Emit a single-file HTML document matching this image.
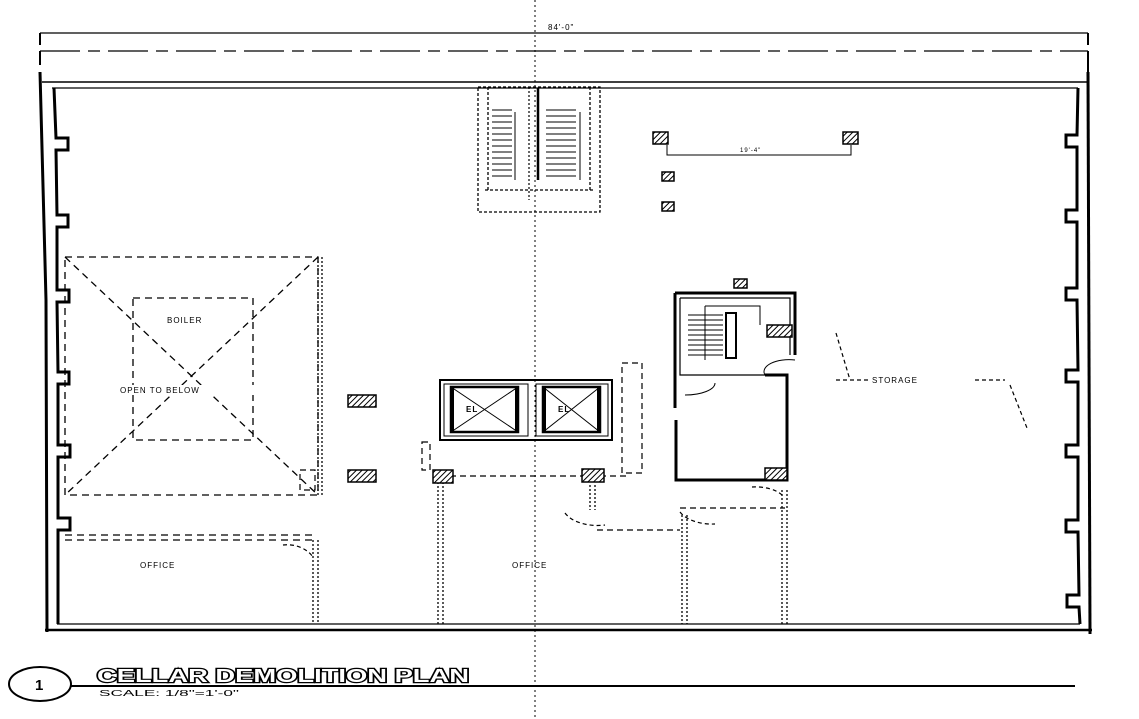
<!DOCTYPE html>
<html><head><style>
html,body{margin:0;padding:0;background:#fff;width:1139px;height:719px;overflow:hidden}
svg{display:block}
text{font-family:"Liberation Sans",sans-serif;fill:#000}
</style></head><body>
<svg width="1139" height="719" viewBox="0 0 1139 719" xmlns="http://www.w3.org/2000/svg">
<defs>
<pattern id="h" width="4" height="4" patternUnits="userSpaceOnUse" patternTransform="rotate(45)">
<rect width="4" height="4" fill="#fff"/><line x1="0" y1="0" x2="0" y2="4" stroke="#000" stroke-width="2"/></pattern>
</defs>
<g stroke="#000" fill="none">
<line x1="535" y1="0" x2="535" y2="719" stroke-width="1" stroke-dasharray="2,3"/>
<line x1="40" y1="33" x2="1088" y2="33" stroke-width="1.2"/>
<line x1="40" y1="33" x2="40" y2="45" stroke-width="2"/>
<line x1="1088" y1="33" x2="1088" y2="45" stroke-width="2"/>
<line x1="40" y1="51" x2="1088" y2="51" stroke-width="1.3" stroke-dasharray="40,8,12,8"/>
<line x1="40" y1="51" x2="40" y2="65" stroke-width="2"/>
<line x1="1088" y1="51" x2="1088" y2="72" stroke-width="2"/>
<line x1="42" y1="82" x2="1088" y2="82" stroke-width="1.5"/>
<line x1="52" y1="88" x2="1078" y2="88" stroke-width="1.3"/>
<polyline points="40,72 46,300 47,632" stroke-width="3"/>
<line x1="1088" y1="72" x2="1090" y2="634" stroke-width="3"/>
<line x1="45" y1="630" x2="1092" y2="630" stroke-width="2.5"/>
<line x1="57" y1="624" x2="1080" y2="624" stroke-width="1.3"/>
<polyline points="54,88 56,138 68,138 68,150 56,150 57,215 68,215 68,227 57,227 57,290 69,290 69,302 57,302 58,372 69,372 69,384 58,384 58,445 70,445 70,457 58,457 58,518 70,518 70,530 58,530 58,624" stroke-width="3"/>
<polyline points="1078,88 1077,135 1066,135 1066,147 1077,147 1077,210 1066,210 1066,222 1077,222 1077,288 1066,288 1066,300 1077,300 1078,370 1066,370 1066,382 1078,382 1078,445 1066,445 1066,457 1078,457 1078,520 1066,520 1066,532 1078,532 1079,595 1067,595 1067,607 1079,607 1080,624" stroke-width="3"/>
<g stroke-width="1.3" stroke-dasharray="3,2">
<rect x="478" y="87" width="122" height="125"/>
<line x1="485" y1="190" x2="595" y2="190"/>
<line x1="488" y1="87" x2="488" y2="190"/>
<line x1="590" y1="87" x2="590" y2="190"/>
</g>
<g stroke-width="1.2">
<line x1="529" y1="87" x2="529" y2="200" stroke-dasharray="2,2"/>
<line x1="538" y1="88" x2="538" y2="180" stroke-width="2.5"/>
</g>
<g stroke-width="1">
<path d="M492 110h20M492 116h20M492 122h20M492 128h20M492 134h20M492 140h20M492 146h20M492 152h20M492 158h20M492 164h20M492 170h20M492 176h20"/>
<path d="M546 110h30M546 116h30M546 122h30M546 128h30M546 134h30M546 140h30M546 146h30M546 152h30M546 158h30M546 164h30M546 170h30M546 176h30"/>
<line x1="515" y1="112" x2="515" y2="180"/><line x1="580" y1="112" x2="580" y2="180"/>
</g>
<polyline points="667,145 667,155 851,155 851,145" stroke-width="1"/>
<g stroke-width="1.3" stroke-dasharray="7,5">
<polygon points="65,257 318,257 318,495 65,495"/>
<rect x="133" y="298" width="120" height="142"/>
<line x1="65" y1="257" x2="318" y2="495"/>
<line x1="318" y1="257" x2="65" y2="495"/>
<line x1="65" y1="535" x2="316" y2="535"/>
<line x1="65" y1="540" x2="316" y2="540"/>
</g>
<rect x="108" y="385" width="165" height="10" fill="#fff" stroke="none"/>
<g stroke-width="1.3" stroke-dasharray="2,2">
<line x1="318" y1="257" x2="318" y2="495"/><line x1="322" y1="257" x2="322" y2="495"/>
<line x1="313" y1="540" x2="313" y2="624"/><line x1="318" y1="540" x2="318" y2="624"/>
<line x1="438" y1="482" x2="438" y2="624"/><line x1="443" y1="482" x2="443" y2="624"/>
<line x1="682" y1="515" x2="682" y2="624"/><line x1="687" y1="515" x2="687" y2="624"/>
<line x1="782" y1="490" x2="782" y2="624"/><line x1="787" y1="490" x2="787" y2="624"/>
<line x1="590" y1="485" x2="590" y2="510"/><line x1="595" y1="485" x2="595" y2="510"/>
</g>
<g stroke-width="1.2" stroke-dasharray="6,4">
<line x1="450" y1="476" x2="630" y2="476"/>
<line x1="680" y1="508" x2="785" y2="508"/>
<line x1="597" y1="530" x2="680" y2="530"/>
<rect x="622" y="363" width="20" height="110"/>
<path d="M300 470 h15 v20 h-15z"/>
<path d="M422 442 h8 v28 h-8z"/>
</g>
<g stroke-width="1.2" stroke-dasharray="4,3">
<path d="M283 545 a30 25 0 0 1 30 12"/>
<path d="M565 513 a35 20 0 0 0 40 12"/>
<path d="M680 512 a35 20 0 0 0 35 12"/>
<path d="M752 487 a30 15 0 0 1 30 8"/>
<line x1="836" y1="333" x2="850" y2="380"/>
<line x1="836" y1="380" x2="870" y2="380"/>
<line x1="975" y1="380" x2="1005" y2="380"/>
<line x1="1010" y1="385" x2="1027" y2="428"/>
</g>
<g>
<rect x="440" y="380" width="172" height="60" stroke-width="2"/>
<rect x="444" y="384" width="84" height="52" stroke-width="1"/>
<rect x="536" y="384" width="72" height="52" stroke-width="1"/>
<rect x="451" y="387" width="67" height="45" stroke-width="2.5"/>
<rect x="543" y="387" width="57" height="45" stroke-width="2.5"/>
<path d="M452 387 V432 M517 387 V432 M544 387 V432 M599 387 V432" stroke-width="4"/>
<path d="M451 387 L518 432 M518 387 L451 432 M543 387 L600 432 M600 387 L543 432" stroke-width="1"/>
</g>
<g>
<path d="M675 293 H795 V355 M675 293 V408 M676 420 V480 H787 V375 H765" stroke-width="3"/>
<path d="M680 298 H790 V355 M680 298 V375 H765" stroke-width="1.2"/>
<path d="M685 395 a30 12 0 0 0 30 -12" stroke-width="1"/>
<path d="M765 375 a25 12 0 0 1 30 -15" stroke-width="1"/>
<rect x="726" y="313" width="10" height="45" stroke-width="2"/>
<path d="M688 315h35M688 320h35M688 325h35M688 330h35M688 335h35M688 340h35M688 345h35M688 350h35M688 355h35" stroke-width="1"/>
<path d="M705 306 V360 M705 306 H760 V325" stroke-width="1"/>
</g>
</g>
<g stroke="#000" stroke-width="1.5" fill="url(#h)">
<rect x="653" y="132" width="15" height="12"/>
<rect x="843" y="132" width="15" height="12"/>
<rect x="662" y="172" width="12" height="9"/>
<rect x="662" y="202" width="12" height="9"/>
<rect x="734" y="279" width="13" height="9"/>
<rect x="348" y="395" width="28" height="12"/>
<rect x="348" y="470" width="28" height="12"/>
<rect x="433" y="470" width="20" height="13"/>
<rect x="582" y="469" width="22" height="13"/>
<rect x="765" y="468" width="22" height="12"/>
<rect x="767" y="325" width="25" height="12"/>
</g>
<g font-size="8" letter-spacing="1">
<text x="548" y="30">84'-0"</text>
<text x="740" y="152" font-size="6">19'-4"</text>
<text x="167" y="323">BOILER</text>
<text x="120" y="393">OPEN TO BELOW</text>
<text x="140" y="568">OFFICE</text>
<text x="512" y="568">OFFICE</text>
<text x="872" y="383">STORAGE</text>
<text x="466" y="412" font-weight="bold">EL</text>
<text x="558" y="412" font-weight="bold">EL</text>
</g>
<ellipse cx="40" cy="684" rx="31" ry="17" fill="none" stroke="#000" stroke-width="2"/>
<text x="35" y="690" font-size="15" font-weight="bold">1</text>
<line x1="71" y1="686" x2="1075" y2="686" stroke="#000" stroke-width="2"/>
<text x="97" y="682" font-size="18" font-weight="bold" textLength="372" lengthAdjust="spacingAndGlyphs" style="fill:#fff;stroke:#000;stroke-width:2.4;paint-order:stroke">CELLAR DEMOLITION PLAN</text>
<text x="99" y="696" font-size="8" textLength="140" lengthAdjust="spacingAndGlyphs">SCALE: 1/8"=1'-0"</text>
</svg>
</body></html>
